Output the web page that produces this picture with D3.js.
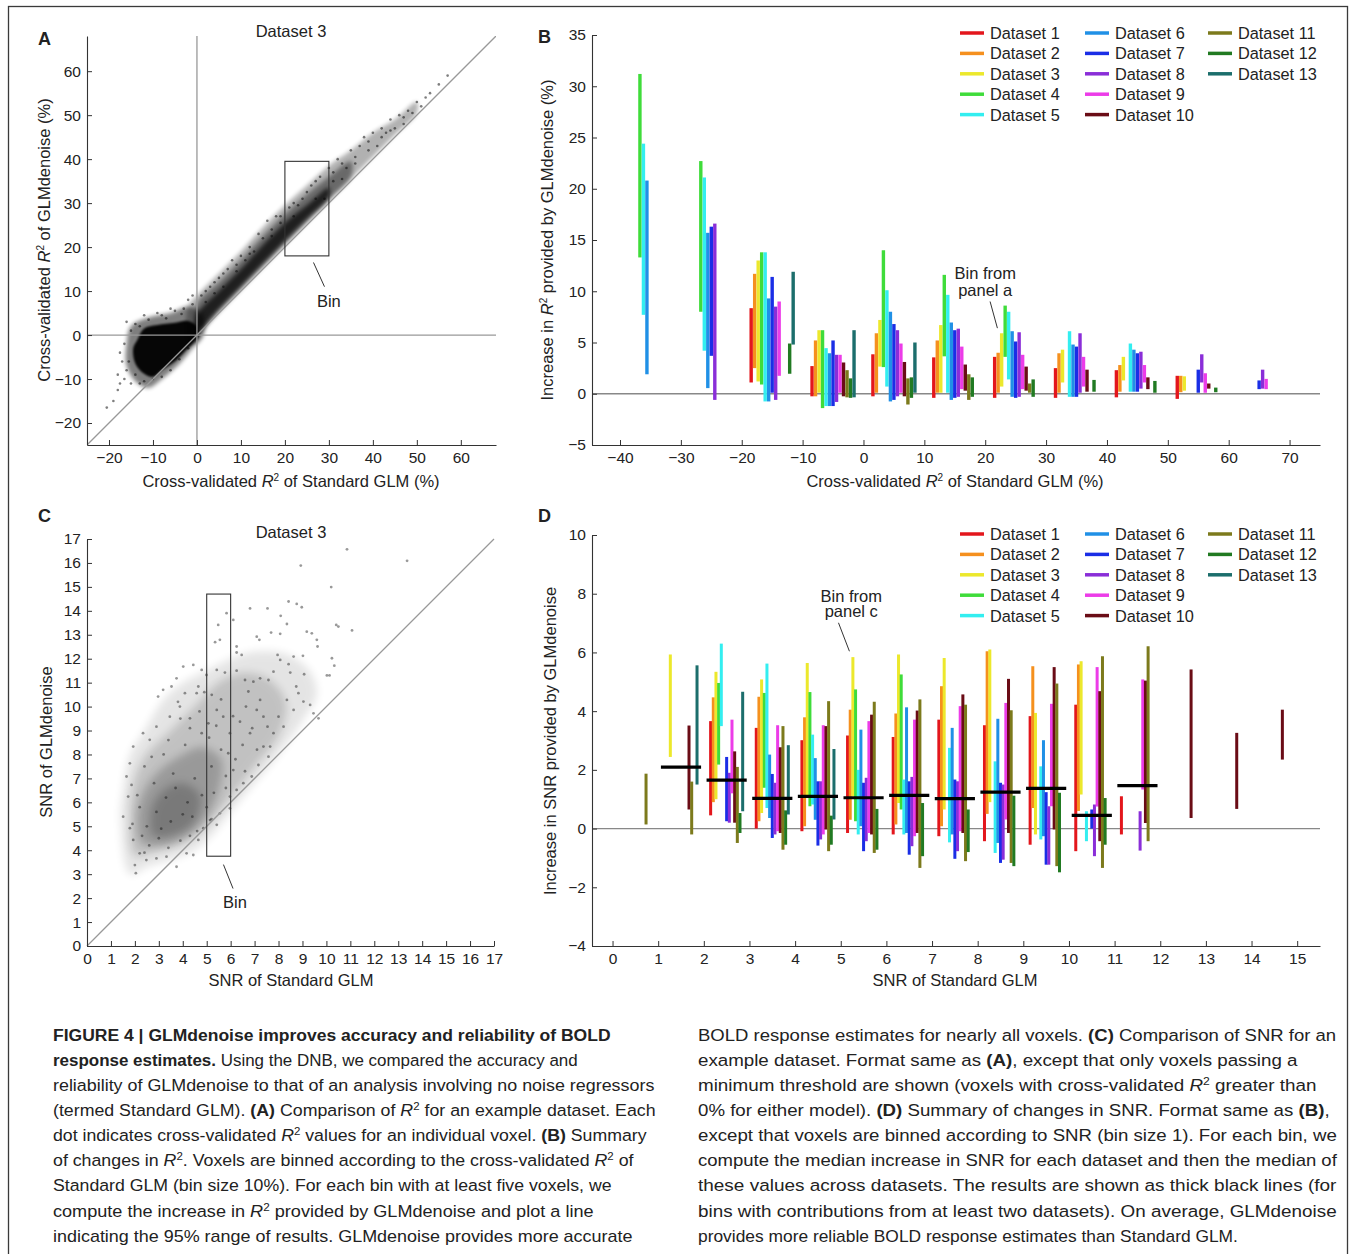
<!DOCTYPE html>
<html><head><meta charset="utf-8">
<script src="https://cdn.jsdelivr.net/npm/d3@7"></script>
<style>
body{margin:0;background:#fff}
text{font-family:"Liberation Sans",Arial,Helvetica,sans-serif;fill:#222;white-space:pre}
</style>
</head><body>
<svg id="fig" width="1356" height="1254"></svg>
<script>
const _ = null;
const datasetNames = ["Dataset 1","Dataset 2","Dataset 3","Dataset 4","Dataset 5","Dataset 6","Dataset 7","Dataset 8","Dataset 9","Dataset 10","Dataset 11","Dataset 12","Dataset 13"];
const datasetColors = ["#e3161c","#f5901e","#ece82c","#3fdc3a","#33eef0","#2090e6","#1a2ee6","#8a2ed8","#ec3ce8","#6a0c16","#7c7a1c","#217a22","#1c6e6c"];

// Panel B: bins of Standard GLM R2 (%), ranges [low, high] of increase in R2 per dataset
const binsB = [-35,-25,-15,-5,5,15,25,35,45,55,65];
const rangesB = [
 [_,_,_,[13.3,31.2],[7.7,24.4],[1.9,20.8],_,_,_,_,_,_,_],
 [_,_,_,[8.0,22.7],[4.2,21.1],[0.55,15.7],[3.7,16.3],[-0.6,16.6],_,_,_,_,_],
 [[1.1,8.35],[2.5,11.7],[1.2,13.0],[0.9,13.8],[-0.75,13.8],[-0.75,9.3],[0.1,11.4],[-0.6,8.5],[1.75,9.0],_,_,[1.95,4.9],[4.8,11.9]],
 [[-0.25,2.7],[-0.25,5.2],[0.1,6.2],[-1.4,6.2],[-1.2,4.45],[-1.2,3.95],[-1.2,5.2],[-0.8,3.8],[0.1,3.8],[-0.25,3.05],[-0.35,2.3],[-0.4,1.5],[-0.35,6.2]],
 [[-0.25,3.85],[0.1,5.9],[2.65,7.2],[2.6,14.0],[0.7,10.1],[-0.75,8.0],[-0.6,6.8],[-0.25,6.2],[0.1,4.9],[-0.25,3.1],[-1.05,1.5],[-0.4,1.6],[0.1,5.0]],
 [[-0.4,3.55],[0.1,5.2],[0.1,6.7],[3.65,11.6],[0.1,9.65],[-0.6,6.95],[-0.4,6.2],[-0.3,6.35],[0.45,4.6],[0.3,2.85],[-0.6,1.9],[-0.3,1.6],_],
 [[-0.4,3.6],[0.1,4.0],[0.7,5.9],[3.6,8.6],[1.4,8.0],[-0.3,6.1],[-0.4,5.1],[-0.3,6.0],[0.45,3.8],[0.3,2.65],[0.1,1.0],[-0.3,1.4],_],
 [[-0.4,2.5],[0.1,3.95],[1.1,4.3],_,[-0.3,6.1],[-0.3,4.8],[-0.3,4.6],[0.1,5.9],[0.7,3.6],[0.2,2.35],_,[0.2,1.35],_],
 [[-0.35,2.3],[0.2,2.8],[1.3,3.6],_,[0.2,4.9],[0.2,4.3],[0.2,3.95],[0.5,4.1],[1.1,2.8],[0.45,1.6],_,[0.1,1.25],_],
 [[-0.5,1.75],[0.15,1.75],[0.3,1.7],_,_,_,[0.1,2.35],[1.1,3.85],[0.1,2.0],[0.5,1.0],_,[0.15,0.6],_],
 [_,_,_,_,_,_,[0.45,1.3],[0.5,2.35],[0.45,1.45],_,_,_,_]
];
const xTicksB = [-40,-30,-20,-10,0,10,20,30,40,50,60,70];
const yTicksB = [-5,0,5,10,15,20,25,30,35];

// Panel D: bins of Standard GLM SNR, ranges of increase in SNR per dataset
const binsD = [0.5,1.5,2.5,3.5,4.5,5.5,6.5,7.5,8.5,9.5,10.5,11.5,12.5,13.5,14.5];
const rangesD = [
 [_,_,_,_,_,_,_,_,_,_,[0.14,1.87],_,_],
 [_,_,[2.44,5.93],_,_,_,_,_,_,[0.65,3.51],[-0.2,1.6],_,[1.5,5.56]],
 [[0.45,3.66],[0.9,4.47],[1.0,5.34],[2.18,4.96],[3.49,6.3],_,[0.25,2.44],[0.2,1.9],[1.2,3.71],[0.2,2.63],[-0.49,2.1],[-0.15,0.53],[0.59,4.66]],
 [[0.0,3.43],[0.25,4.49],[0.53,5.08],[1.39,4.62],[0.7,5.62],[0.36,2.52],[-0.32,1.86],[-0.2,1.56],[-0.09,3.52],[-0.15,2.77],[-0.72,3.49],[-0.55,0.62],[0.48,2.84]],
 [[-0.09,3.01],[0.08,3.79],[1.04,5.64],[0.76,4.65],[0.82,3.2],[0.3,2.4],[-0.58,1.61],[-0.37,1.61],[-0.2,3.52],[-0.03,3.49],[-0.77,4.34],[-0.55,0.44],[0.31,2.71]],
 [[-0.15,3.17],[0.3,4.05],[1.1,5.84],[0.25,4.74],[-0.2,2.0],[0.08,3.37],[-0.77,1.56],[-0.43,1.73],[-0.15,3.66],[-0.2,3.88],[-0.83,4.32],[-0.72,0.67],_],
 [[-0.2,3.12],[0.14,3.92],[0.87,5.93],[0.65,5.25],[-0.2,1.67],[-0.15,4.13],[-0.89,1.61],[-0.6,1.76],[-0.26,3.71],[-0.15,4.02],[-1.34,4.4],[-0.94,0.87],_],
 [[-0.26,3.71],[0.08,4.85],[0.65,5.81],_,[-0.47,2.75],[-0.2,3.43],[-1.03,1.67],[-0.77,1.61],[-0.09,4.17],[-0.15,4.57],[-1.11,4.22],[-0.8,0.65],_],
 [[-0.43,3.52],[0.5,6.04],[0.9,6.1],_,[-0.83,2.29],[-0.49,3.74],[-1.17,1.56],[-1.06,1.5],[0.31,4.28],[-0.15,5.1],[-1.17,4.03],[-1.28,1.12],_],
 [[-0.55,3.83],[0.7,5.53],[-0.2,3.94],_,[-0.37,2.12],[-0.26,3.01],[-1.23,1.24],[-1.23,0.76],[0.76,4.25],[-0.03,5.5],[-1.28,4.94],[-1.49,1.22],_],
 [[-0.77,4.22],[0.6,5.59],[1.16,5.7],_,[-0.43,0.59],_,[0.0,0.65],[-0.94,0.82],[0.75,5.5],[-0.43,4.68],[-1.34,5.87],[-0.55,1.04],_],
 [[-0.2,1.1],_,_,_,_,_,_,[-0.75,0.59],[1.33,5.08],[0.19,5.04],[-0.43,6.21],_,_],
 [_,_,_,_,_,_,_,_,_,[0.36,5.42],_,_,_],
 [_,_,_,_,_,_,_,_,_,[0.67,3.26],_,_,_],
 [_,_,_,_,_,_,_,_,_,[2.35,4.05],_,_,_]
];
const medianBinsD = [1.5,2.5,3.5,4.5,5.5,6.5,7.5,8.5,9.5,10.5,11.5];
const mediansD = [2.09,1.65,1.03,1.1,1.05,1.13,1.02,1.24,1.37,0.45,1.46];
const xTicksD = [0,1,2,3,4,5,6,7,8,9,10,11,12,13,14,15];
const yTicksD = [-4,-2,0,2,4,6,8,10];

// Panel A: density regions (outlines, in %) and sparse voxels
const blobCoreA = [[-13.5,-1],[-12,1.5],[-9,2.3],[-5,2.8],[-2,3.2],[0,2],[0.5,0],[-1,-2],[-3,-4],[-5,-6],[-8,-8],[-10,-9.5],[-12,-8.8],[-14,-6.5],[-14.5,-3]];
const blobHaloA = [[-16,-2],[-15,2],[-11,4],[-6,5],[-2,6.5],[1,5],[1.5,0],[-1,-3],[-4,-6.5],[-8,-10],[-11,-12],[-14,-10.5],[-16,-7]];
const bandOuterA = [[-2,6.5],[0,9],[5,14],[10,19],[15,24.5],[20,29.5],[25,34],[30,38.5],[35,42],[40,46],[45,49],[50,53],[50,50.5],[45,45.5],[40,40.5],[35,35.5],[30,30.5],[25,25.5],[20,20.5],[15,15.3],[10,10.2],[5,5],[1,0.5],[0,-1.5],[-2,-2]];
const bandMidA = [[0,7],[5,12],[10,17],[15,22.5],[20,27.5],[25,32],[30,36],[35,39.5],[35,36],[30,31],[25,26],[20,21],[15,16],[10,11],[5,5.8],[0,0.5]];
const bandCoreA = [[0,4.5],[5,10],[10,15],[15,20.5],[20,25.5],[25,29.5],[30,33.5],[30,31.5],[25,26.5],[20,21.5],[15,16.3],[10,11.1],[5,6],[0,1]];
const voxelsA = [[-20.5,-16.5],[-18,-12.5],[-17.5,-11],[-16.5,-10],[-16,-8],[-17,-6],[-17.5,-4],[-16.5,-2],[-15,1],[-14,2.5],[-11,3.5],[-8,4.5],[-5,5.5],[-3,6],[-1,7],[1,9],[3,11],[5,13],[7,15],[8,17],[10,18],[12,20],[14,23],[16,26],[18,27],[21,29],[24,31],[26,34],[28,36],[30,38],[32,40],[35,42],[37,43],[38,45],[40,46],[42,47],[44,49],[46,50],[48,51],[50,53],[52,54],[55,57],[45,47],[41,43],[36,39],[33,35.5],[29,31],[-14,-9],[-12,-10.5],[-10,-10],[-8,-9.5],[-6,-8],[-4,-5.5],[-2,-3],[2,7.5],[4,9.5],[6,11],[9,14.5],[11,17],[13,19],[17,24],[19,25.5],[22,27],[23,29.5],[27,31],[31,35],[34,38],[39,42],[43,46],[47,49.5],[-15.5,-6],[-13,2],[-7,3.8],[-3.5,4.8],[-1,9],[2,10],[4,12],[6,14],[9,16],[12,18.5],[15,22],[17,22.5],[19,27],[22,30],[25,32.5],[27,35],[31,37],[33,39],[36,40.5],[39,44],[42,45],[44,46.5],[47,48],[49,50.5],[53,55],[51,52],[57,59],[-19,-15],[-18,-9],[-15,-11],[-13,-11],[-16,3],[-12,4.5],[-9,5],[-6,6],[-2,8]];
const ticksA = [-20,-10,0,10,20,30,40,50,60];

// Panel C: density regions (SNR units) and individual voxels
const cloudOuterC = [[1.8,3.0],[2.5,3.3],[3.5,3.6],[4.5,4.0],[5.2,4.6],[6,5.6],[7,6.8],[8,8],[9,9.4],[9.6,10.5],[9.3,11.5],[8.3,12.2],[7,12.3],[6,12],[5,11.5],[4,11],[3.2,10.3],[2.4,9],[1.8,8],[1.5,6.5],[1.4,5.3]];
const cloudMidC = [[2,3.8],[3,4],[4,4.3],[5,5],[6,6.2],[7,7.5],[8,8.8],[8.3,10.2],[7.5,11.2],[6.5,11.4],[5.5,11],[4.5,10],[3.5,9],[2.5,8],[2,7],[1.8,5.5]];
const cloudCoreC = [[2.3,4.3],[3.2,4.2],[4.2,4.6],[5,5.4],[5.5,6.5],[5.6,7.8],[4.8,8.3],[4,8],[3,7.3],[2.4,6.5],[2.1,5.5]];
const cloudDenseC = [[2.8,4.6],[3.8,4.7],[4.5,5.2],[4.7,6.3],[4,6.8],[3.2,6.5],[2.7,5.7]];
const voxelsC = [[10.86,16.57],[13.37,16.09],[8.93,15.89],[10.2,14.99],[8.42,14.39],[8.76,14.29],[8.97,14.15],[6.81,14.1],[7.54,14.1],[8.09,13.79],[5.83,13.9],[6.11,13.62],[5.48,13.41],[10.41,13.41],[10.5,13.34],[11.07,13.18],[9.18,13.13],[9.39,13.06],[8.35,13.45],[7.69,13.09],[8.07,13.04],[7.09,12.92],[7.2,12.79],[9.63,12.51],[9.6,12.79],[6.25,12.51],[6.46,12.16],[5.35,12.69],[5.55,12.79],[6.25,12.26],[7.96,12.16],[8.63,12.09],[9.02,12.12],[8.07,11.95],[8.42,11.77],[10.23,12.02],[10.33,11.71],[10.02,11.3],[10.13,11.3],[9.07,11.35],[8.49,11.42],[7.79,11.46],[7.58,11.11],[7.23,11.18],[6.95,11.04],[6.6,11.11],[6.25,11.5],[5.76,11.42],[5.42,11.53],[4.99,11.32],[4.79,11.53],[4.44,11.74],[4.02,11.67],[3.74,11.18],[3.53,10.84],[2.97,10.42],[3.18,10.7],[4.09,10.56],[4.58,10.56],[5.21,10.49],[4.65,10.84],[9.32,10.07],[9.46,9.72],[9.67,9.51],[9.04,10.21],[8.83,10.56],[8.74,10.84],[8.35,10.28],[8.63,9.86],[8.0,9.58],[8.21,9.16],[7.79,8.89],[7.54,9.16],[7.37,9.58],[7.09,9.86],[7.23,10.28],[6.74,10.63],[6.64,10.0],[6.39,9.37],[6.81,8.89],[7.37,8.33],[7.58,7.91],[7.65,8.33],[7.16,7.56],[6.88,7.08],[6.53,6.8],[6.25,6.52],[5.97,6.24],[6.11,7.35],[5.9,8.05],[5.97,8.89],[5.69,9.58],[5.42,9.86],[5.07,9.3],[4.79,8.89],[4.3,9.51],[3.88,10.0],[3.46,9.58],[2.9,9.16],[2.62,8.61],[2.34,8.89],[1.93,8.33],[1.79,7.63],[1.65,7.08],[1.86,6.73],[1.72,6.24],[1.51,5.4],[1.79,4.92],[1.93,4.43],[2.2,3.87],[2.0,3.38],[2.04,3.04],[2.48,3.59],[2.9,3.66],[3.32,3.73],[3.74,3.31],[4.16,3.87],[4.44,3.8],[4.65,4.43],[4.86,4.92],[5.14,5.26],[5.42,5.06],[5.55,5.54],[5.97,5.75],[2.5,5],[3,4.5],[3.5,5.2],[4,5.5],[4.2,6],[3.3,6.2],[2.8,6.8],[3.6,7.2],[4.5,7],[5.2,7.5],[4.8,6.3],[2.2,5.8],[2.6,4.2],[3.9,4.4],[4.6,4.8],[5.3,6.4],[5.6,8.2],[4.1,8.4],[3.2,8],[2.4,7.5],[2.9,5.6],[3.7,6.6],[4.4,5.4],[5,5.8],[3.1,4.9],[2.3,4.6],[2.7,7.9],[3.4,8.6],[4.3,9.1],[5.1,8.7],[5.8,7.1],[6.2,7.8],[6.5,8.4],[5.4,9.2],[4.7,9.8],[3.9,9.5],[2.1,6.3],[1.9,5.1],[2.4,3.9],[3.4,4.1],[4.3,4.6],[5.2,5.3],[5.8,6.6],[6.6,7.3],[7.1,8.2],[6.9,9.1],[6.1,9.6],[5.6,10.3],[4.9,10.6],[3.8,10.2]];
const ticksC = [0,1,2,3,4,5,6,7,8,9,10,11,12,13,14,15,16,17];

// Caption (text segments: b = bold, i = italic, s = superscript)
const captionLeft = [
 [["FIGURE 4 | GLMdenoise improves accuracy and reliability of BOLD","b"]],
 [["response estimates.","b"],[" Using the DNB, we compared the accuracy and",""]],
 [["reliability of GLMdenoise to that of an analysis involving no noise regressors",""]],
 [["(termed Standard GLM). ",""],["(A)","b"],[" Comparison of ",""],["R","i"],["2","s"],[" for an example dataset. Each",""]],
 [["dot indicates cross-validated ",""],["R","i"],["2","s"],[" values for an individual voxel. ",""],["(B)","b"],[" Summary",""]],
 [["of changes in ",""],["R","i"],["2","s"],[". Voxels are binned according to the cross-validated ",""],["R","i"],["2","s"],[" of",""]],
 [["Standard GLM (bin size 10%). For each bin with at least five voxels, we",""]],
 [["compute the increase in ",""],["R","i"],["2","s"],[" provided by GLMdenoise and plot a line",""]],
 [["indicating the 95% range of results. GLMdenoise provides more accurate",""]]
];
const captionRight = [
 [["BOLD response estimates for nearly all voxels. ",""],["(C)","b"],[" Comparison of SNR for an",""]],
 [["example dataset. Format same as ",""],["(A)","b"],[", except that only voxels passing a",""]],
 [["minimum threshold are shown (voxels with cross-validated ",""],["R","i"],["2","s"],[" greater than",""]],
 [["0% for either model). ",""],["(D)","b"],[" Summary of changes in SNR. Format same as ",""],["(B)","b"],[",",""]],
 [["except that voxels are binned according to SNR (bin size 1). For each bin, we",""]],
 [["compute the median increase in SNR for each dataset and then the median of",""]],
 [["these values across datasets. The results are shown as thick black lines (for",""]],
 [["bins with contributions from at least two datasets). On average, GLMdenoise",""]],
 [["provides more reliable BOLD response estimates than Standard GLM.",""]]
];
const captionLeftEnds = [611,578,655,656,647,634,612,594,633];
const captionRightEnds = [1337,1298,1317,1330,1337,1337,1337,1337,1238];

// ---------------------------------------------------------------
const LBL = 16.5, TICK = 15.5;
const svg = d3.select("#fig");
svg.append("rect").attr("x",8.5).attr("y",6.5).attr("width",1339).attr("height",1280)
  .attr("fill","none").attr("stroke","#3a3a3a").attr("stroke-width",1.3);
const defs = svg.append("defs");
[["blur1",1.2],["blur2",2.2],["blur4",4]].forEach(([id,s])=>{
  defs.append("filter").attr("id",id).attr("x","-20%").attr("y","-20%").attr("width","140%").attr("height","140%")
    .append("feGaussianBlur").attr("stdDeviation",s);
});

function richText(sel, segs, supSize, supDy){
  let shifted = false;
  segs.forEach(([t,s])=>{
    const ts = sel.append("tspan").text(t);
    if(s==="b") ts.attr("font-weight","bold");
    if(s==="i") ts.attr("font-style","italic");
    if(s==="s"){ ts.attr("font-size",supSize).attr("dy",-supDy); shifted = true; }
    else if(shifted){ ts.attr("dy",supDy); shifted=false; }
  });
}

function styleAxis(g){
  g.selectAll("path.domain").attr("stroke","#333").attr("stroke-width",1.1);
  g.selectAll(".tick line").attr("stroke","#333").attr("stroke-width",1);
  g.selectAll(".tick text").attr("font-size",TICK).attr("fill","#222")
    .attr("font-family","Liberation Sans, Arial, sans-serif");
}

function drawAxes(x, y, xt, yt){
  const gx = svg.append("g").attr("transform",`translate(0,${y.range()[0]})`)
    .call(d3.axisBottom(x).tickValues(xt).tickSize(-5).tickSizeOuter(0).tickPadding(7));
  const gy = svg.append("g").attr("transform",`translate(${x.range()[0]},0)`)
    .call(d3.axisLeft(y).tickValues(yt).tickSize(-5).tickSizeOuter(0).tickPadding(6));
  styleAxis(gx); styleAxis(gy);
}

function label(x,y,segs,rot){
  const t = svg.append("text").attr("font-size",LBL).attr("text-anchor","middle")
    .attr("transform",`translate(${x},${y})`+(rot?` rotate(${rot})`:""));
  richText(t, segs, 10, 6);
  return t;
}
function plain(x,y,s){
  svg.append("text").attr("x",x).attr("y",y).attr("text-anchor","middle").attr("font-size",LBL).text(s);
}
function panelLetter(x,y,s){
  svg.append("text").attr("x",x).attr("y",y).attr("font-size",18).attr("font-weight","bold").attr("fill","#111").text(s);
}

const smooth = d3.line().curve(d3.curveCatmullRomClosed.alpha(0.5));

// ---------------- Panel A ----------------
const xA = d3.scaleLinear().domain([-25,68]).range([87,496]);
const yA = d3.scaleLinear().domain([-25,68]).range([445,36]);
defs.append("clipPath").attr("id","clipA").append("rect")
  .attr("x",87).attr("y",36).attr("width",409).attr("height",409);
const gA = svg.append("g").attr("clip-path","url(#clipA)");
const ptA = d=>[xA(d[0]),yA(d[1])];
gA.append("path").attr("d",smooth(bandOuterA.map(ptA))).attr("fill","#000").attr("opacity",0.3).attr("filter","url(#blur2)");
gA.append("path").attr("d",smooth(bandMidA.map(ptA))).attr("fill","#000").attr("opacity",0.4).attr("filter","url(#blur2)");
gA.append("path").attr("d",smooth(bandCoreA.map(ptA))).attr("fill","#000").attr("opacity",0.7).attr("filter","url(#blur2)");
gA.append("path").attr("d",smooth(blobHaloA.map(ptA))).attr("fill","#000").attr("opacity",0.5).attr("filter","url(#blur2)");
gA.append("path").attr("d",smooth(blobCoreA.map(ptA))).attr("fill","#000").attr("opacity",0.95).attr("filter","url(#blur1)");
gA.selectAll("circle").data(voxelsA).join("circle")
  .attr("cx",d=>xA(d[0])).attr("cy",d=>yA(d[1])).attr("r",1.3).attr("fill","#000").attr("opacity",0.5);
gA.append("line").attr("x1",xA(0)).attr("x2",xA(0)).attr("y1",yA(-25)).attr("y2",yA(68)).attr("stroke","#999").attr("stroke-width",1.3);
gA.append("line").attr("x1",xA(-25)).attr("x2",xA(68)).attr("y1",yA(0)).attr("y2",yA(0)).attr("stroke","#999").attr("stroke-width",1.3);
gA.append("line").attr("x1",xA(-25)).attr("x2",xA(68)).attr("y1",yA(-25)).attr("y2",yA(68)).attr("stroke","#999").attr("stroke-width",1.3);
svg.append("rect").attr("x",xA(20)).attr("y",yA(39.5)).attr("width",xA(30)-xA(20)).attr("height",yA(18)-yA(39.5))
  .attr("fill","none").attr("stroke","#333").attr("stroke-width",1.1);
svg.append("line").attr("x1",xA(26.5)).attr("y1",yA(16.5)).attr("x2",xA(29)).attr("y2",yA(11)).attr("stroke","#333").attr("stroke-width",1);
plain(xA(30),yA(6.4),"Bin");
drawAxes(xA,yA,ticksA,ticksA);
plain(291,37,"Dataset 3");
label(291,487,[["Cross-validated ",""],["R","i"],["2","s"],[" of Standard GLM (%)",""]]);
label(50,240,[["Cross-validated ",""],["R","i"],["2","s"],[" of GLMdenoise (%)",""]],-90);
panelLetter(38,45,"A");

// ---------------- Panel B ----------------
const xB = d3.scaleLinear().domain([-44.6,75]).range([592,1320]);
const yB = d3.scaleLinear().domain([-5,35]).range([445,35]);
const stepB = 0.575;
svg.append("line").attr("x1",xB(-44.6)).attr("x2",xB(75)).attr("y1",yB(0)).attr("y2",yB(0)).attr("stroke","#888").attr("stroke-width",1.3);
binsB.forEach((b,bi)=>{
  rangesB[bi].forEach((r,di)=>{
    if(!r) return;
    const cx = xB(b + (di-6)*stepB);
    svg.append("rect").attr("x",cx-1.7).attr("width",3.4)
      .attr("y",yB(r[1])).attr("height",yB(r[0])-yB(r[1])).attr("fill",datasetColors[di]);
  });
});
drawAxes(xB,yB,xTicksB,yTicksB);
label(955,487,[["Cross-validated ",""],["R","i"],["2","s"],[" of Standard GLM (%)",""]]);
label(553,240,[["Increase in ",""],["R","i"],["2","s"],[" provided by GLMdenoise (%)",""]],-90);
plain(xB(20),yB(11.2),"Bin from");
plain(xB(20),yB(9.5),"panel a");
svg.append("line").attr("x1",xB(20.8)).attr("y1",yB(9.0)).attr("x2",xB(22)).attr("y2",yB(6.4)).attr("stroke","#333").attr("stroke-width",1);
panelLetter(538,43,"B");

function legend(y0){
  const colX = [960,1085,1208];
  datasetNames.forEach((n,i)=>{
    const c = Math.floor(i/5), r = i%5;
    const y = y0 + r*20.4;
    svg.append("line").attr("x1",colX[c]).attr("x2",colX[c]+24).attr("y1",y).attr("y2",y)
      .attr("stroke",datasetColors[i]).attr("stroke-width",3.5);
    svg.append("text").attr("x",colX[c]+30).attr("y",y+6).attr("font-size",16.3).text(n);
  });
}
legend(33);

// ---------------- Panel C ----------------
const xC = d3.scaleLinear().domain([0,17]).range([87,494]);
const yC = d3.scaleLinear().domain([0,17]).range([946,539]);
const ptC = d=>[xC(d[0]),yC(d[1])];
const gC = svg.append("g");
gC.append("path").attr("d",smooth(cloudOuterC.map(ptC))).attr("fill","#000").attr("opacity",0.1).attr("filter","url(#blur4)");
gC.append("path").attr("d",smooth(cloudMidC.map(ptC))).attr("fill","#000").attr("opacity",0.15).attr("filter","url(#blur4)");
gC.append("path").attr("d",smooth(cloudCoreC.map(ptC))).attr("fill","#000").attr("opacity",0.2).attr("filter","url(#blur4)");
gC.append("path").attr("d",smooth(cloudDenseC.map(ptC))).attr("fill","#000").attr("opacity",0.2).attr("filter","url(#blur4)");
gC.selectAll("circle").data(voxelsC).join("circle")
  .attr("cx",d=>xC(d[0])).attr("cy",d=>yC(d[1])).attr("r",1.4).attr("fill","#000").attr("opacity",0.4);
svg.append("line").attr("x1",xC(0)).attr("x2",xC(17)).attr("y1",yC(0)).attr("y2",yC(17)).attr("stroke","#999").attr("stroke-width",1.3);
svg.append("rect").attr("x",xC(5)).attr("y",yC(14.7)).attr("width",xC(6)-xC(5)).attr("height",yC(3.75)-yC(14.7))
  .attr("fill","none").attr("stroke","#333").attr("stroke-width",1.1);
svg.append("line").attr("x1",xC(5.7)).attr("y1",yC(3.4)).attr("x2",xC(6.1)).attr("y2",yC(2.4)).attr("stroke","#333").attr("stroke-width",1);
plain(xC(6.18),yC(1.6),"Bin");
drawAxes(xC,yC,ticksC,ticksC);
plain(291,538,"Dataset 3");
label(291,986,[["SNR of Standard GLM",""]]);
label(52,742,[["SNR of GLMdenoise",""]],-90);
panelLetter(38,522,"C");

// ---------------- Panel D ----------------
const xD = d3.scaleLinear().domain([-0.45,15.5]).range([592,1320]);
const yD = d3.scaleLinear().domain([-4,10]).range([946,535]);
const stepD = 0.0585;
svg.append("line").attr("x1",xD(-0.45)).attr("x2",xD(15.5)).attr("y1",yD(0)).attr("y2",yD(0)).attr("stroke","#888").attr("stroke-width",1.3);
binsD.forEach((b,bi)=>{
  rangesD[bi].forEach((r,di)=>{
    if(!r) return;
    const cx = xD(b + (di-6)*stepD);
    svg.append("rect").attr("x",cx-1.5).attr("width",3)
      .attr("y",yD(r[1])).attr("height",yD(r[0])-yD(r[1])).attr("fill",datasetColors[di]);
  });
});
medianBinsD.forEach((b,i)=>{
  svg.append("line").attr("x1",xD(b-0.44)).attr("x2",xD(b+0.44)).attr("y1",yD(mediansD[i])).attr("y2",yD(mediansD[i]))
    .attr("stroke","#000").attr("stroke-width",3.2);
});
drawAxes(xD,yD,xTicksD,yTicksD);
label(955,986,[["SNR of Standard GLM",""]]);
label(556,741,[["Increase in SNR provided by GLMdenoise",""]],-90);
plain(xD(5.23),yD(7.73),"Bin from");
plain(xD(5.23),yD(7.19),"panel c");
svg.append("line").attr("x1",xD(4.95)).attr("y1",yD(7.01)).attr("x2",xD(5.19)).attr("y2",yD(6.04)).attr("stroke","#333").attr("stroke-width",1);
panelLetter(538,522,"D");
legend(534);

// ---------------- Caption ----------------
const baseY = [1041,1065.5,1090.5,1116,1141,1166,1191,1216.5,1242];
function captionCol(lines, ends, x0){
  lines.forEach((segs,i)=>{
    const t = svg.append("text").attr("font-size",17).attr("fill","#1a1a1a");
    richText(t, segs, 11, 6);
    const w = t.node().getComputedTextLength();
    const k = (ends[i]-x0)/w;
    t.attr("transform",`translate(${x0},${baseY[i]}) scale(${k},1)`);
  });
}
captionCol(captionLeft, captionLeftEnds, 53);
captionCol(captionRight, captionRightEnds, 698);
</script>
</body></html>
